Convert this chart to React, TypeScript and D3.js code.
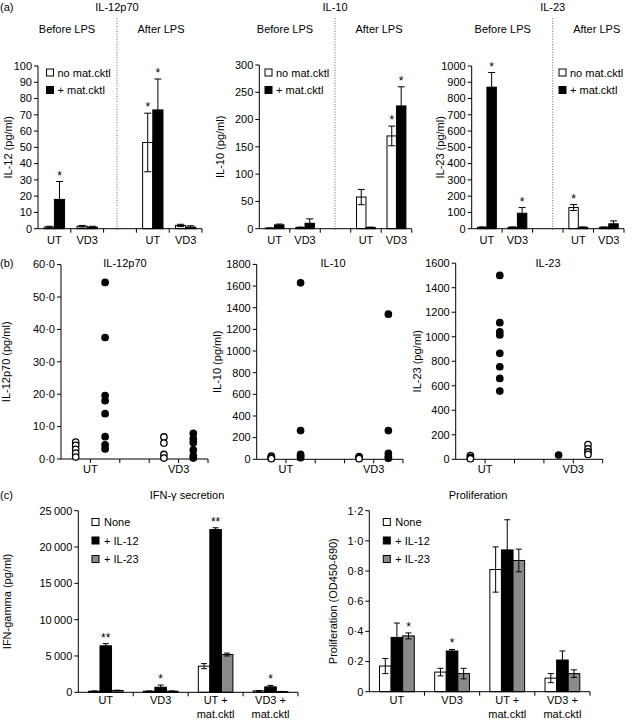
import React from "react";
import * as d3 from "d3";

const FONT = "'Liberation Sans', Arial, Helvetica, sans-serif";
const GRAY = "#8a8a8a";

// ---------- Panel (a) data ----------
const aCategories = ["UT", "VD3", "", "UT", "VD3"];
const aLegend = ["no mat.cktl", "+ mat.cktl"];

const il12NoMat = [1, 1.5, null, 53, 2];
const il12NoMatErr = [0.5, 0.5, null, 18, 0.7];
const il12Mat = [18, 1, null, 73, 1];
const il12MatErr = [11, 0.5, null, 19, 0.8];
const il12NoMatStar = ["", "", "", "*", ""];
const il12MatStar = ["*", "", "", "*", ""];
const il12Ticks = [0, 10, 20, 30, 40, 50, 60, 70, 80, 90, 100];

const il10NoMat = [1, 2, null, 58, 170];
const il10NoMatErr = [0.5, 1, null, 14, 18];
const il10Mat = [7, 10, null, 2, 225];
const il10MatErr = [1.5, 8, null, 1, 35];
const il10NoMatStar = ["", "", "", "", "*"];
const il10MatStar = ["", "", "", "", "*"];
const il10Ticks = [0, 50, 100, 150, 200, 250, 300];

const il23NoMat = [8, 8, null, 130, 8];
const il23NoMatErr = [3, 3, null, 18, 3];
const il23Mat = [870, 95, null, 8, 30];
const il23MatErr = [90, 35, null, 3, 18];
const il23NoMatStar = ["", "", "", "*", ""];
const il23MatStar = ["*", "*", "", "", ""];
const il23Ticks = [0, 100, 200, 300, 400, 500, 600, 700, 800, 900, 1000];

// ---------- Panel (b) data ----------
const bGroupLabels = ["UT", "VD3"];
const bIl12UTNone = [5.2, 4.2, 3.0, 1.8, 0.6];
const bIl12UTMat = [54.5, 37.5, 19.6, 18, 14, 6.9, 4.4, 3.1];
const bIl12VD3None = [6.8, 4.9, 1.4, 0.3];
const bIl12VD3Mat = [7.9, 6.2, 5.0, 2.8, 1.0, 0.3];
const bIl12Ticks = [0, 10, 20, 30, 40, 50, 60];

const bIl10UTNone = [30, 20, 12, 6];
const bIl10UTMat = [1630, 265, 45, 30, 15];
const bIl10VD3None = [25, 15, 6];
const bIl10VD3Mat = [1340, 265, 55, 25, 10];
const bIl10Ticks = [0, 200, 400, 600, 800, 1000, 1200, 1400, 1600, 1800];

const bIl23UTNone = [30, 15, 5];
const bIl23UTMat = [1500, 1115, 1040, 1015, 865, 755, 660, 557];
const bIl23VD3Black = [35];
const bIl23VD3Open = [120, 85, 60, 40];
const bIl23Ticks = [0, 200, 400, 600, 800, 1000, 1200, 1400, 1600];

// ---------- Panel (c) data ----------
const cCategories = [["UT"], ["VD3"], ["UT +", "mat.cktl"], ["VD3 +", "mat.cktl"]];
const cLegend = ["None", "+ IL-12", "+ IL-23"];

const ifnNone = [150, 150, 3600, 200];
const ifnNoneErr = [30, 30, 350, 40];
const ifnIL12 = [6400, 700, 22400, 750];
const ifnIL12Err = [300, 300, 250, 200];
const ifnIL23 = [250, 150, 5200, 100];
const ifnIL23Err = [40, 30, 200, 20];
const ifnStars = [["", "**", ""], ["", "*", ""], ["", "**", ""], ["", "*", ""]];
const ifnTicks = [0, 5000, 10000, 15000, 20000, 25000];

const prolNone = [0.17, 0.13, 0.81, 0.09];
const prolNoneErr = [0.05, 0.025, 0.15, 0.03];
const prolIL12 = [0.36, 0.27, 0.94, 0.21];
const prolIL12Err = [0.095, 0.01, 0.2, 0.06];
const prolIL23 = [0.37, 0.12, 0.87, 0.12];
const prolIL23Err = [0.02, 0.035, 0.075, 0.025];
const prolStars = [["", "", "*"], ["", "*", ""], ["", "", ""], ["", "", ""]];
const prolTicks = [0, 0.2, 0.4, 0.6, 0.8, 1.0, 1.2];

// ---------- helpers ----------
const dotFmt = (d: number) => d.toFixed(1).replace(".", "\u00b7");
const dotFmt0 = (d: number) => (d === 0 ? "0" : dotFmt(d));
const spaceFmt = (d: number) => (d === 0 ? "0" : d3.format(",")(d).replace(",", "\u2009"));
const plainFmt = (d: number) => String(d);

function YAxis({ scale, x, ticks, fmt }: any) {
  const [r0, r1] = scale.range();
  return (
    <g>
      <line x1={x} x2={x} y1={r0} y2={r1} stroke="#000" strokeWidth={1} />
      {ticks.map((t: number) => (
        <g key={t}>
          <line x1={x - 4} x2={x} y1={scale(t)} y2={scale(t)} stroke="#000" />
          <text x={x - 6} y={scale(t)} dy="0.35em" textAnchor="end">
            {fmt(t)}
          </text>
        </g>
      ))}
    </g>
  );
}

function XAxis({ band, y }: any) {
  const [r0, r1] = band.range();
  const bounds = band.domain().map((d: any) => band(d) + band.bandwidth());
  return (
    <g>
      <line x1={r0} x2={r1} y1={y} y2={y} stroke="#000" />
      {bounds.map((b: number, i: number) => (
        <line key={i} x1={b} x2={b} y1={y} y2={y + 4} stroke="#000" />
      ))}
    </g>
  );
}

function ErrBar({ x, yLo, yHi, half }: any) {
  return (
    <g stroke="#000" strokeWidth={1}>
      <line x1={x} x2={x} y1={yLo} y2={yHi} />
      <line x1={x - half} x2={x + half} y1={yHi} y2={yHi} />
      <line x1={x - half} x2={x + half} y1={yLo} y2={yLo} />
    </g>
  );
}

// ---------- Panel (a) ----------
function PanelA({ L, title, ylabel, noMat, noMatErr, mat, matErr, noStar, matStar, ticks }: any) {
  const x = d3.scaleBand<number>().domain(d3.range(aCategories.length)).range([L.x0, L.x1]);
  const y = d3.scaleLinear().domain([0, ticks[ticks.length - 1]]).range([L.yBase, L.yTop]);
  const bw = x.bandwidth() * 0.31;
  const series = [
    { v: noMat, e: noMatErr, s: noStar, fill: "#fff", off: -bw },
    { v: mat, e: matErr, s: matStar, fill: "#000", off: 0 },
  ];
  return (
    <g>
      <text x={L.div} y={11} textAnchor="middle">{title}</text>
      <text x={L.div - 50} y={33} textAnchor="middle">Before LPS</text>
      <text x={L.div + 44} y={33} textAnchor="middle">After LPS</text>
      <line x1={L.div} x2={L.div} y1={18} y2={L.yBase + 2} stroke="#666" strokeDasharray="1,1.6" />
      {series.map((s, si) =>
        s.v.map((v: number | null, i: number) => {
          if (v === null) return null;
          const cx = (x(i) as number) + x.bandwidth() / 2 + s.off;
          const top = y(v + s.e[i]);
          return (
            <g key={si + "-" + i}>
              <rect x={cx} y={y(v)} width={bw} height={L.yBase - y(v)} fill={s.fill} stroke="#000" strokeWidth={1} />
              <ErrBar x={cx + bw / 2} yLo={y(Math.max(0, v - s.e[i]))} yHi={top} half={3.5} />
              {s.s[i] ? (
                <text x={cx + bw / 2} y={top - 2} textAnchor="middle" fontSize={12}>{s.s[i]}</text>
              ) : null}
            </g>
          );
        })
      )}
      <YAxis scale={y} x={L.x0} ticks={ticks} fmt={plainFmt} />
      <XAxis band={x} y={L.yBase} />
      {aCategories.map((c, i) => (
        <text key={i} x={(x(i) as number) + x.bandwidth() / 2} y={244} textAnchor="middle">{c}</text>
      ))}
      <text transform={`translate(${L.ylx},${(L.yBase + L.yTop) / 2}) rotate(-90)`} textAnchor="middle">{ylabel}</text>
      {aLegend.map((t, i) => (
        <g key={t}>
          <rect x={L.lx} y={69 + i * 17.5} width={7} height={7} fill={i === 0 ? "#fff" : "#000"} stroke="#000" />
          <text x={L.lx + 11} y={76.5 + i * 17.5}>{t}</text>
        </g>
      ))}
    </g>
  );
}

// ---------- Panel (b) ----------
function PanelB({ L, title, ylabel, groups, ticks, fmt }: any) {
  const x = d3.scaleBand<number>().domain(d3.range(5)).range([L.x0, L.x1]);
  const y = d3.scaleLinear().domain([0, ticks[ticks.length - 1]]).range([L.yBase, L.yTop]);
  return (
    <g>
      <text x={L.tx} y={267} textAnchor="middle">{title}</text>
      <YAxis scale={y} x={L.x0} ticks={ticks} fmt={fmt} />
      <XAxis band={x} y={L.yBase} />
      {groups.map((g: any, gi: number) =>
        g.values.map((v: number, i: number) => (
          <circle
            key={gi + "-" + i}
            cx={(x(g.band) as number) + x.bandwidth() / 2}
            cy={y(v)}
            r={3.2}
            fill={g.open ? "#fff" : "#000"}
            stroke="#000"
            strokeWidth={1.3}
          />
        ))
      )}
      {bGroupLabels.map((t, i) => (
        <text key={t} x={(x(i * 3 + 1) as number)} y={473} textAnchor="middle">{t}</text>
      ))}
      <text transform={`translate(${L.ylx},${(L.yBase + L.yTop) / 2}) rotate(-90)`} textAnchor="middle">{ylabel}</text>
    </g>
  );
}

// ---------- Panel (c) ----------
function PanelC({ L, title, ylabel, series, stars, ticks, fmt }: any) {
  const x = d3.scaleBand<number>().domain(d3.range(cCategories.length)).range([L.x0, L.x1]);
  const y = d3.scaleLinear().domain([0, ticks[ticks.length - 1]]).range([L.yBase, L.yTop]);
  const bw = x.bandwidth() * 0.21;
  const fills = ["#fff", "#000", GRAY];
  return (
    <g>
      <text x={L.tx} y={499} textAnchor="middle">{title}</text>
      {series.map((s: any, si: number) =>
        s.v.map((v: number, i: number) => {
          const cx = (x(i) as number) + x.bandwidth() / 2 + (si - 1.5) * bw;
          const top = y(v + s.e[i]);
          return (
            <g key={si + "-" + i}>
              <rect x={cx} y={y(v)} width={bw} height={L.yBase - y(v)} fill={fills[si]} stroke="#000" strokeWidth={1} />
              <ErrBar x={cx + bw / 2} yLo={y(Math.max(0, v - s.e[i]))} yHi={top} half={3} />
              {stars[i][si] ? (
                <text x={cx + bw / 2} y={top - 2} textAnchor="middle" fontSize={12}>{stars[i][si]}</text>
              ) : null}
            </g>
          );
        })
      )}
      <YAxis scale={y} x={L.x0} ticks={ticks} fmt={fmt} />
      <XAxis band={x} y={L.yBase} />
      {cCategories.map((lines, i) => (
        <text key={i} x={(x(i) as number) + x.bandwidth() / 2} y={704} textAnchor="middle">
          {lines.map((ln, k) => (
            <tspan key={k} x={(x(i) as number) + x.bandwidth() / 2} dy={k === 0 ? 0 : 13.5}>{ln}</tspan>
          ))}
        </text>
      ))}
      <text transform={`translate(${L.ylx},${(L.yBase + L.yTop) / 2}) rotate(-90)`} textAnchor="middle">{ylabel}</text>
      {cLegend.map((t, i) => (
        <g key={t}>
          <rect x={L.lx} y={518.5 + i * 18.5} width={7} height={7} fill={fills[i]} stroke="#000" />
          <text x={L.lx + 12} y={526 + i * 18.5}>{t}</text>
        </g>
      ))}
    </g>
  );
}

export default function App() {
  return (
    <svg
      width={632}
      height={722}
      style={{ position: "absolute", left: 0, top: 0, background: "#fff" }}
      fontFamily={FONT}
      fontSize={11}
    >
      <rect width={632} height={722} fill="#fff" />
      <text x={0} y={11}>(a)</text>
      <text x={0} y={267}>(b)</text>
      <text x={0} y={499}>(c)</text>

      <PanelA
        L={{ x0: 38, x1: 202, yBase: 228.7, yTop: 66, div: 117, lx: 46.5, ylx: 12 }}
        title="IL-12p70" ylabel="IL-12 (pg/ml)"
        noMat={il12NoMat} noMatErr={il12NoMatErr} mat={il12Mat} matErr={il12MatErr}
        noStar={il12NoMatStar} matStar={il12MatStar} ticks={il12Ticks}
      />
      <PanelA
        L={{ x0: 259.3, x1: 411.7, yBase: 228.7, yTop: 65, div: 335, lx: 265, ylx: 224 }}
        title="IL-10" ylabel="IL-10 (pg/ml)"
        noMat={il10NoMat} noMatErr={il10NoMatErr} mat={il10Mat} matErr={il10MatErr}
        noStar={il10NoMatStar} matStar={il10MatStar} ticks={il10Ticks}
      />
      <PanelA
        L={{ x0: 471.7, x1: 624, yBase: 228.7, yTop: 66, div: 552.7, lx: 559, ylx: 444 }}
        title="IL-23" ylabel="IL-23 (pg/ml)"
        noMat={il23NoMat} noMatErr={il23NoMatErr} mat={il23Mat} matErr={il23MatErr}
        noStar={il23NoMatStar} matStar={il23MatStar} ticks={il23Ticks}
      />

      <PanelB
        L={{ x0: 61, x1: 208, yBase: 459, yTop: 264.6, tx: 125, ylx: 10 }}
        title="IL-12p70" ylabel="IL-12p70 (pg/ml)" ticks={bIl12Ticks} fmt={dotFmt}
        groups={[
          { band: 0, open: true, values: bIl12UTNone },
          { band: 1, open: false, values: bIl12UTMat },
          { band: 3, open: true, values: bIl12VD3None },
          { band: 4, open: false, values: bIl12VD3Mat },
        ]}
      />
      <PanelB
        L={{ x0: 256.7, x1: 403, yBase: 459.3, yTop: 264.4, tx: 333, ylx: 221 }}
        title="IL-10" ylabel="IL-10 (pg/ml)" ticks={bIl10Ticks} fmt={plainFmt}
        groups={[
          { band: 0, open: true, values: bIl10UTNone },
          { band: 1, open: false, values: bIl10UTMat },
          { band: 3, open: true, values: bIl10VD3None },
          { band: 4, open: false, values: bIl10VD3Mat },
        ]}
      />
      <PanelB
        L={{ x0: 455.7, x1: 602.7, yBase: 459.3, yTop: 263.2, tx: 548, ylx: 421 }}
        title="IL-23" ylabel="IL-23 (pg/ml)" ticks={bIl23Ticks} fmt={plainFmt}
        groups={[
          { band: 0, open: true, values: bIl23UTNone },
          { band: 1, open: false, values: bIl23UTMat },
          { band: 3, open: false, values: bIl23VD3Black },
          { band: 4, open: true, values: bIl23VD3Open },
        ]}
      />

      <PanelC
        L={{ x0: 78.3, x1: 298, yBase: 692.3, yTop: 510.7, tx: 187, ylx: 11, lx: 92 }}
        title={"IFN-\u03b3 secretion"} ylabel="IFN-gamma (pg/ml)" ticks={ifnTicks} fmt={spaceFmt}
        stars={ifnStars}
        series={[
          { v: ifnNone, e: ifnNoneErr },
          { v: ifnIL12, e: ifnIL12Err },
          { v: ifnIL23, e: ifnIL23Err },
        ]}
      />
      <PanelC
        L={{ x0: 369.3, x1: 590, yBase: 691.7, yTop: 510.7, tx: 478, ylx: 337, lx: 383.3 }}
        title="Proliferation" ylabel="Proliferation (OD450-690)" ticks={prolTicks} fmt={dotFmt0}
        stars={prolStars}
        series={[
          { v: prolNone, e: prolNoneErr },
          { v: prolIL12, e: prolIL12Err },
          { v: prolIL23, e: prolIL23Err },
        ]}
      />
    </svg>
  );
}
